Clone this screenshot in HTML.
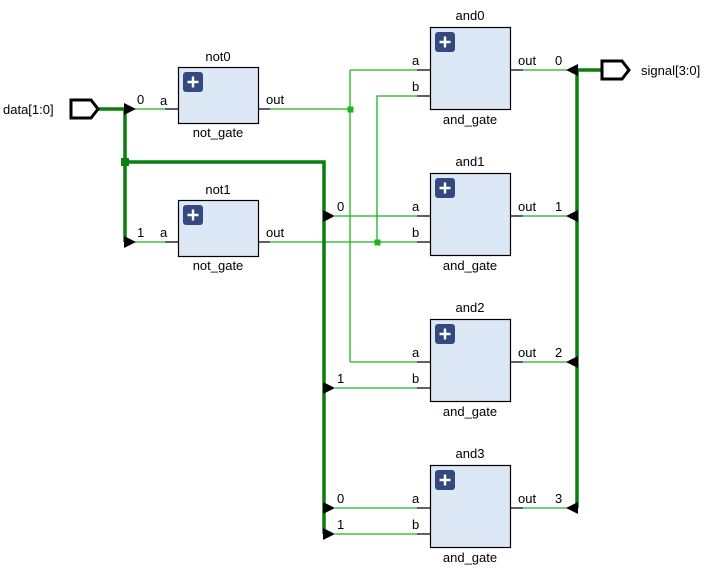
<!DOCTYPE html>
<html><head><style>
html,body{margin:0;padding:0;background:#fff;}
svg{display:block;}
text{font-family:"Liberation Sans",Arial,sans-serif;font-size:13px;fill:#000;}
</style></head><body>
<svg width="719" height="574" viewBox="0 0 719 574" xmlns="http://www.w3.org/2000/svg">
<defs>
<g id="plus"><rect x="0" y="0" width="20" height="20" rx="3" fill="#34497f"/><path d="M10 4.5v11M4.5 10h11" stroke="#fff" stroke-width="2.4"/></g>
</defs>
<!-- thin green wires -->
<g stroke="#1db31d" stroke-width="1.3" fill="none">
<path d="M135 109H165M135 242H165"/>
<path d="M270 109H350M350 70V362M350 70H417M350 362H417"/>
<path d="M270 242H417M377 242V96H417"/>
<path d="M335 216H417M335 388H417M335 508H417M335 534H417"/>
<path d="M523 70H567M523 216H567M523 362H567M523 508H567"/>
</g>
<rect x="347.5" y="106.5" width="6" height="6" fill="#1db31d"/>
<rect x="374.5" y="239.5" width="6" height="6" fill="#1db31d"/>
<!-- thick buses -->
<g stroke="#0a7f0a" stroke-width="3.5" fill="none">
<path d="M98 109H125V242M125 162H324V534"/>
<path d="M601 70H577V508"/>
</g>
<rect x="121" y="158" width="8" height="8" fill="#0a7f0a"/>
<!-- arrows -->
<g fill="#000">
<path d="M124 103L136 109L124 115Z"/>
<path d="M124 236L136 242L124 248Z"/>
<path d="M323 210L335 216L323 222Z"/>
<path d="M323 382L335 388L323 394Z"/>
<path d="M323 502L335 508L323 514Z"/>
<path d="M323 528L335 534L323 540Z"/>
<path d="M578 64L566 70L578 76Z"/>
<path d="M578 210L566 216L578 222Z"/>
<path d="M578 356L566 362L578 368Z"/>
<path d="M578 502L566 508L578 514Z"/>
</g>
<!-- ports -->
<path d="M71 100H91L98 109L91 118H71Z" fill="#fff" stroke="#000" stroke-width="3"/>
<path d="M602 61H622L629 70L622 79H602Z" fill="#fff" stroke="#000" stroke-width="3"/>
<text x="3" y="114">data[1:0]</text>
<text x="641" y="75">signal[3:0]</text>
<!-- pin lines black -->
<g stroke="#000" stroke-width="1.2">
<path d="M165 109H192M244 109H270M165 242H192M244 242H270"/>
<path d="M417 70H444M417 96H444M496 70H523"/>
<path d="M417 216H444M417 242H444M496 216H523"/>
<path d="M417 362H444M417 388H444M496 362H523"/>
<path d="M417 508H444M417 534H444M496 508H523"/>
</g>
<!-- boxes -->
<g fill="#dde8f6" stroke="#000" stroke-width="1.2">
<rect x="178.5" y="67.5" width="80" height="56"/>
<rect x="178.5" y="200.5" width="80" height="56"/>
<rect x="430.5" y="27.5" width="80" height="82"/>
<rect x="430.5" y="173.5" width="80" height="82"/>
<rect x="430.5" y="319.5" width="80" height="82"/>
<rect x="430.5" y="465.5" width="80" height="82"/>
</g>
<use href="#plus" x="183" y="72"/>
<use href="#plus" x="183" y="205"/>
<use href="#plus" x="435" y="32"/>
<use href="#plus" x="435" y="178"/>
<use href="#plus" x="435" y="324"/>
<use href="#plus" x="435" y="470"/>
<!-- labels -->
<g text-anchor="middle">
<text x="218" y="61">not0</text><text x="218" y="137">not_gate</text>
<text x="218" y="194">not1</text><text x="218" y="270">not_gate</text>
<text x="470" y="20">and0</text><text x="470" y="124">and_gate</text>
<text x="470" y="166">and1</text><text x="470" y="270">and_gate</text>
<text x="470" y="312">and2</text><text x="470" y="416">and_gate</text>
<text x="470" y="458">and3</text><text x="470" y="562">and_gate</text>
</g>
<text x="160" y="105">a</text><text x="266" y="104">out</text>
<text x="160" y="237">a</text><text x="266" y="237">out</text>
<text x="137" y="104">0</text><text x="137" y="237">1</text>
<g>
<text x="412" y="65">a</text><text x="412" y="91">b</text><text x="518" y="65">out</text><text x="555" y="65">0</text>
<text x="412" y="211">a</text><text x="412" y="237">b</text><text x="518" y="211">out</text><text x="555" y="211">1</text>
<text x="412" y="357">a</text><text x="412" y="383">b</text><text x="518" y="357">out</text><text x="555" y="357">2</text>
<text x="412" y="503">a</text><text x="412" y="529">b</text><text x="518" y="503">out</text><text x="555" y="503">3</text>
<text x="337" y="211">0</text><text x="337" y="383">1</text>
<text x="337" y="503">0</text><text x="337" y="529">1</text>
</g>
</svg>
</body></html>
